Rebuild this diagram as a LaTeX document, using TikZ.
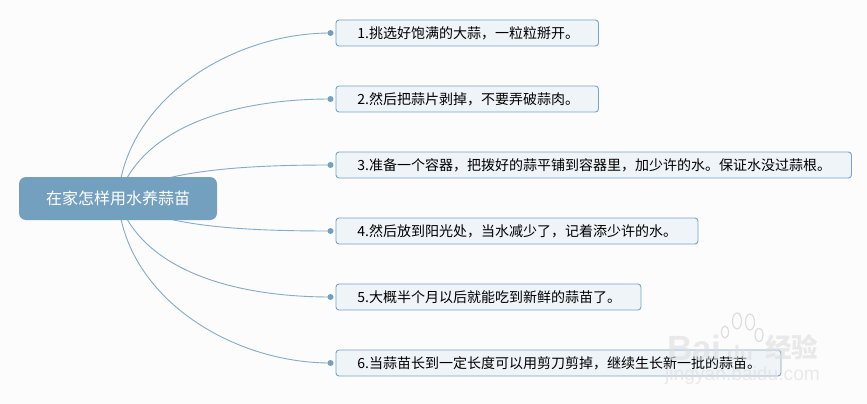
\documentclass[tikz,border=0pt]{standalone}
\usepackage{fontspec}
\setmainfont{Noto Sans CJK SC}
\setsansfont{Liberation Sans}
\usetikzlibrary{calc}
\definecolor{pagebg}{HTML}{FCFCFD}
\definecolor{linkc}{HTML}{84ABC8}
\definecolor{mainc}{HTML}{74A0C0}
\definecolor{boxfill}{HTML}{EFF4F8}
\definecolor{boxline}{HTML}{78A3C4}
\definecolor{wmark}{HTML}{DDDDDD}
\pgfdeclarelayer{bg}
\pgfdeclarelayer{links}
\pgfsetlayers{bg,links,main}
\tikzset{
  x=1pt,y=-1pt,
  rootbox/.style={rectangle,rounded corners=7pt,fill=mainc,text=white,minimum width=198pt,minimum height=43pt,inner sep=0pt,font=\fontsize{16pt}{18pt}\selectfont},
  leafbox/.style={rectangle,rounded corners=3pt,draw=boxline,line width=0.9pt,fill=boxfill,anchor=west,minimum height=26pt,minimum width=#1,text width=#1-43pt,inner xsep=21.5pt,inner ysep=0pt,align=left,font=\fontsize{14pt}{16pt}\selectfont},
  dotn/.style={circle,fill=mainc,minimum size=6pt,inner sep=0pt},
  link/.style={draw=linkc,line width=0.9pt},
  wtext/.style={text=wmark,anchor=base west,inner sep=0pt},
  wtoe/.style={draw=wmark,line width=1.2pt,fill=pagebg},
}
\begin{document}
\begin{tikzpicture}
\begin{pgfonlayer}{bg}
\fill[pagebg] (0,0) rectangle (867,404);
\end{pgfonlayer}
\useasboundingbox (0,0) rectangle (867,404);

\node[rootbox] (root) at (118,198.5) {在家怎样用水养蒜苗};

% watermark paw toes sit behind the box of item 6
\draw[wtoe] (725,332) ellipse (3.5 and 6);
\draw[wtoe] (737,321) ellipse (4.5 and 8);
\draw[wtoe] (750,322) ellipse (4.5 and 8);
\draw[wtoe] (759,335) ellipse (4 and 6.5);

\node[leafbox=262.5pt] (a) at (335.5,33) {1.挑选好饱满的大蒜，一粒粒掰开。};
\node[leafbox=262.5pt] (b) at (335.5,99) {2.然后把蒜片剥掉，不要弄破蒜肉。};
\node[leafbox=515.5pt] (c) at (335.5,165) {3.准备一个容器，把拨好的蒜平铺到容器里，加少许的水。保证水没过蒜根。};
\node[leafbox=362pt] (d) at (335.5,231) {4.然后放到阳光处，当水减少了，记着添少许的水。};
\node[leafbox=305pt] (e) at (335.5,297) {5.大概半个月以后就能吃到新鲜的蒜苗了。};
\node[leafbox=445pt] (f) at (335.5,363) {6.当蒜苗长到一定长度可以用剪刀剪掉，继续生长新一批的蒜苗。};

\node[dotn] (da) at (330.5,33) {};
\node[dotn] (db) at (330.5,99) {};
\node[dotn] (dc) at (330.5,165) {};
\node[dotn] (dd) at (330.5,231) {};
\node[dotn] (de) at (330.5,297) {};
\node[dotn] (df) at (330.5,363) {};

\begin{pgfonlayer}{links}
\draw[link] (root.center) .. controls +(7,-98) and +(-100,0) .. (da.center);
\draw[link] (root.center) .. controls +(22,-70) and +(-100,0) .. (db.center);
\draw[link] (root.center) .. controls +(40,-28) and +(-90,0) .. (dc.center);
\draw[link] (root.center) .. controls +(40,28) and +(-90,0) .. (dd.center);
\draw[link] (root.center) .. controls +(22,70) and +(-100,0) .. (de.center);
\draw[link] (root.center) .. controls +(7,98) and +(-100,0) .. (df.center);
\end{pgfonlayer}

% watermark text
\begin{scope}[opacity=0.6]
\node[wtext,font=\sffamily\bfseries\fontsize{35pt}{36pt}\selectfont] (wma) at (667,360) {Bai};
\node[wtext,font=\sffamily\bfseries\fontsize{21pt}{24pt}\selectfont] (wmb) at (727,360) {du};
\node[wtext,font=\bfseries\fontsize{26.5pt}{28pt}\selectfont] (wmc) at (765,357) {经验};
\node[wtext,font=\sffamily\fontsize{19.2pt}{20pt}\selectfont] (wmd) at (665,380) {jingyan.baidu.com};
\end{scope}
\end{tikzpicture}
\end{document}
